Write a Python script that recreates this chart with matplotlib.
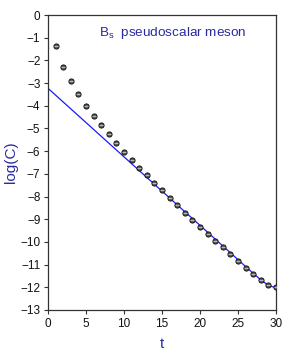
import numpy as np
import matplotlib
matplotlib.use("Agg")
import matplotlib.pyplot as plt

plt.rcParams['font.family'] = ['Liberation Sans', 'DejaVu Sans']

t = [1, 2, 3, 4, 5, 6, 7, 8, 9, 10, 11, 12, 13, 14, 15,
     16, 17, 18, 19, 20, 21, 22, 23, 24, 25, 26, 27, 28, 29, 30]
logC = [-1.37, -2.28, -2.92, -3.49, -4.00, -4.45, -4.86, -5.26, -5.65, -6.02,
        -6.37, -6.73, -7.05, -7.39, -7.72, -8.06, -8.39, -8.71, -9.02, -9.33,
        -9.63, -9.94, -10.24, -10.53, -10.82, -11.13, -11.41, -11.67, -11.89, -12.00]

# fit parameters: log10 C(t) = a + log10(exp(-m t) + exp(-m (T - t)))
fit_a = -3.23
fit_m = 0.696
fit_T = 60

tf = np.linspace(0, 30, 301)
yf = fit_a + np.log10(np.exp(-fit_m * tf) + np.exp(-fit_m * (fit_T - tf)))

fig = plt.figure(figsize=(3.0, 3.54), dpi=100)
ax = fig.add_axes([48/300, 1 - 310/354, 228/300, 295/354])

ax.plot(tf, yf, color='#1a1aff', lw=0.9, zorder=2)
ax.plot(t, logC, 'o', ms=3.7, mfc='#606060', mec='#111111', mew=0.7, zorder=3)
ax.plot(t, logC, '_', ms=3.4, color='#dddddd', mew=0.5, zorder=4)

ax.set_xlim(0, 30)
ax.set_ylim(-13, 0)
ax.set_xticks([0, 5, 10, 15, 20, 25, 30])
ax.set_yticks(range(-13, 1))
ax.tick_params(direction='out', length=3, width=0.8, labelsize=8.5, colors='#333333',
               labelcolor='#111111', top=False, right=False, pad=2.5)
for s in ax.spines.values():
    s.set_color('#333333')
    s.set_linewidth(0.9)

ax.set_xlabel('t', color='#2a2aa0', fontsize=11, labelpad=5)
ax.set_ylabel('log(C)', color='#2a2aa0', fontsize=11, labelpad=1.5)

ax.text(0.545, 0.94, r'B$_\mathregular{s}$  pseudoscalar meson', transform=ax.transAxes,
        ha='center', va='center', color='#2a2aa0', fontsize=9.7)

fig.savefig('out.png', dpi=100)
